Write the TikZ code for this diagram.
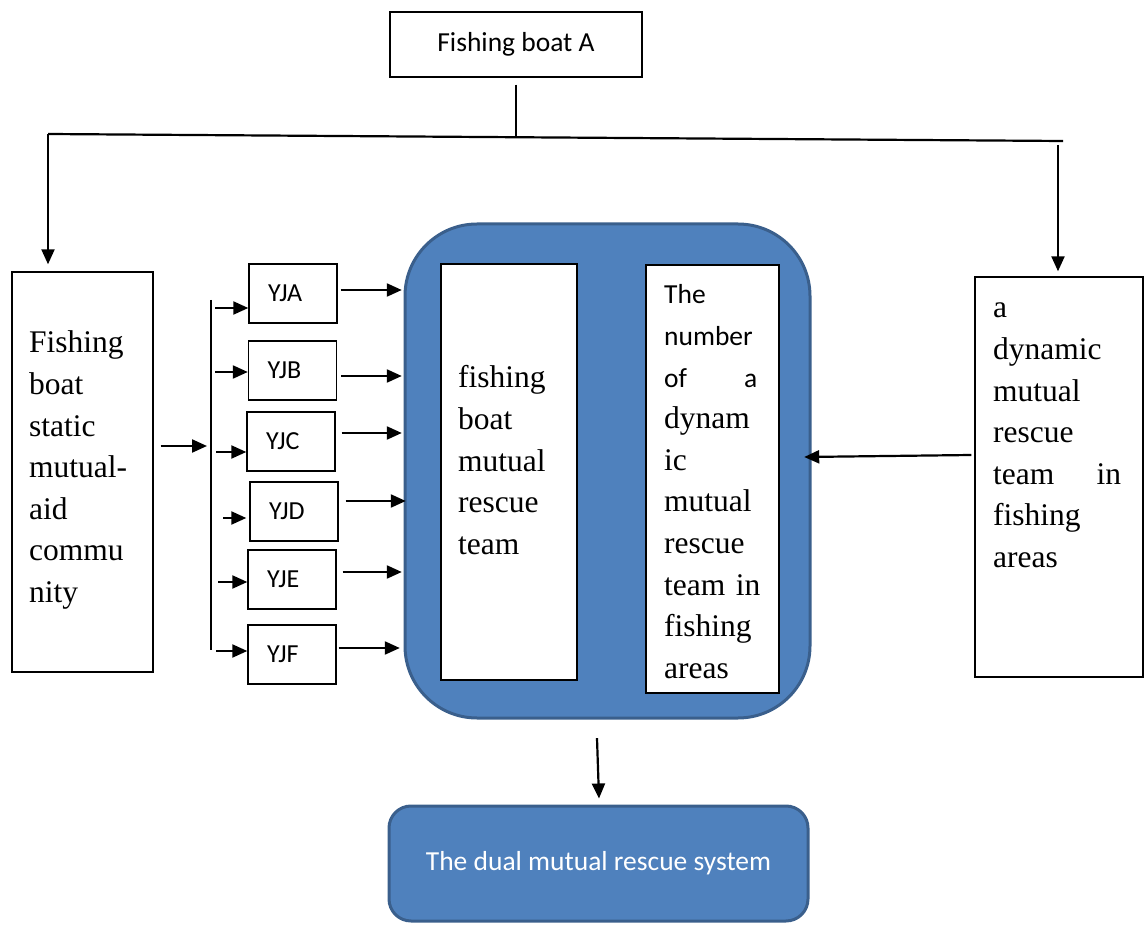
\documentclass[tikz,border=0pt]{standalone}
\usepackage{fontspec}
\setmainfont{Liberation Serif}
\newfontfamily\calib{Carlito}
\usetikzlibrary{arrows.meta}
\definecolor{blu}{HTML}{4F81BD}
\definecolor{bluedge}{HTML}{3A5F8C}
\begin{document}
\begin{tikzpicture}[x=1pt,y=-1pt,
  box/.style={draw=black,line width=1.4pt,inner sep=0pt},
  yj/.style={draw=black,line width=1.4pt,text width=50pt,inner xsep=19pt,inner ysep=0pt,
     minimum height=59pt,align=left,font=\calib\fontsize{26}{30}\selectfont},
  conn/.style={line width=2.2pt,-{Triangle[length=15pt,width=13pt]}},
  plain/.style={line width=2.2pt},
  serif/.style={inner sep=0pt,anchor=base west,align=left,font=\fontsize{31.5}{41.6}\selectfont},
  blubox/.style={fill=blu,draw=bluedge,line width=3pt}]
\useasboundingbox (0,0) rectangle (1144,925);

% top box
\node[box,minimum width=252pt,minimum height=65pt,font=\calib\fontsize{27.5}{33}\selectfont] (boatA) at (516,44.5) {Fishing boat A};

% side boxes
\node[box,minimum width=141pt,minimum height=400pt] (L) at (82.5,472) {};
\node[serif,text width=125pt] (Ltxt) at (29,353) {Fishing\\boat\\static\\mutual-\\aid\\commu\\nity};

\node[box,minimum width=168pt,minimum height=400pt] (R) at (1059,477) {};
\node[serif,text width=130pt] (Rtxt) at (993,318) {a\\dynamic\\mutual\\rescue\\\leavevmode\hbox to 128pt{team\hfill in}\\fishing\\areas};

% big blue box
\draw[blubox,rounded corners=72pt] (405,224) rectangle (810,718);
\node[inner sep=0pt,minimum width=405pt,minimum height=494pt] (big) at (607.5,471) {};
\node[box,fill=white,minimum width=136pt,minimum height=416pt] (wb1) at (509,472) {};
\node[box,fill=white,minimum width=133pt,minimum height=428pt] (wb2) at (712.5,479) {};
\node[serif,text width=110pt] (T1) at (458,388) {fishing\\boat\\mutual\\rescue\\team};
\node[serif,text width=110pt] (T2) at (664,304) {{\calib\fontsize{27.5}{41.6}\selectfont The}\\{\calib\fontsize{27.5}{41.6}\selectfont number}\\\leavevmode\hbox to 93pt{\calib\fontsize{27.5}{41.6}\selectfont of\hfill a}\\dynam\\ic\\mutual\\rescue\\team in\\fishing\\areas};

% bottom box
\node[blubox,rounded corners=22pt,minimum width=419pt,minimum height=115pt,
      text=white,font=\calib\fontsize{27.5}{33}\selectfont] (Bt) at (598.5,863.5) {The dual mutual rescue system};

% YJ boxes
\node[yj] (yja) at (293,293.5) {YJA};
\node[yj] (yjb) at (292.5,370.5) {YJB};
\node[yj] (yjc) at (291,441.5) {YJC};
\node[yj] (yjd) at (294,511.5) {YJD};
\node[yj] (yje) at (292,579.5) {YJE};
\node[yj] (yjf) at (292,654.5) {YJF};

% top connectors
\coordinate (hl) at (48,134);
\coordinate (hr) at (1063,141);
\coordinate (hm) at (516,137.2);
\coordinate (rt) at (1058,145);
\draw[plain] ([yshift=-7pt]boatA.south) -- (hm);
\draw[plain] (hl) -- (hr);
\draw[conn,shorten >=7pt] (hl) -- (hl |- L.north);
\draw[conn,shorten >=5pt] (rt) -- (rt |- R.north);

% left box to bus
\coordinate (bustop) at (211,300);
\coordinate (busbot) at (211,650);
\draw[plain] (bustop) -- (busbot);
\coordinate (lo) at ([xshift=7pt,yshift=26pt]L.east);
\draw[conn,shorten >=4pt] (lo) -- (lo -| bustop);

% bus to YJ boxes
\coordinate (ia) at ([yshift=-14.5pt]yja.west);
\coordinate (ib) at ([yshift=-1.5pt]yjb.west);
\coordinate (ic) at ([yshift=-10.5pt]yjc.west);
\coordinate (id) at ([yshift=-6.5pt]yjd.west);
\coordinate (ie) at ([yshift=-2.5pt]yje.west);
\coordinate (if) at ([yshift=3.5pt]yjf.west);
\draw[conn] ([xshift=4pt]ia -| bustop) -- (ia);
\draw[conn] ([xshift=4pt]ib -| bustop) -- (ib);
\draw[conn] ([xshift=5pt]ic -| bustop) -- (ic);
\draw[conn] ([xshift=12pt]id -| bustop) -- ([xshift=-3pt]id);
\draw[conn] ([xshift=7pt]ie -| bustop) -- (ie);
\draw[conn] ([xshift=5pt]if -| bustop) -- (if);

% YJ boxes to big box
\coordinate (oa) at ([xshift=3pt,yshift=3.5pt]yja.east);
\coordinate (ob) at ([xshift=4pt,yshift=-5.5pt]yjb.east);
\coordinate (oc) at ([xshift=6pt,yshift=8.5pt]yjc.east);
\coordinate (od) at ([xshift=7pt,yshift=10.5pt]yjd.east);
\coordinate (oe) at ([xshift=6pt,yshift=7.5pt]yje.east);
\coordinate (of) at ([xshift=2pt,yshift=6.5pt]yjf.east);
\draw[conn,shorten >=3pt] (oa) -- (oa -| big.west);
\draw[conn,shorten >=3pt] (ob) -- (ob -| big.west);
\draw[conn,shorten >=3pt] (oc) -- (oc -| big.west);
\draw[conn,shorten >=-1pt] (od) -- (od -| big.west);
\draw[conn,shorten >=3pt] (oe) -- (oe -| big.west);
\draw[conn,shorten >=5pt] (of) -- (of -| big.west);

% right box to big box
\coordinate (ro) at ([xshift=-3pt,yshift=22pt]R.west);
\coordinate (bre) at ([yshift=-2pt]big.east |- ro);
\draw[conn] (ro) -- ([xshift=-6pt]bre);

% big box to bottom box
\draw[conn] ([xshift=-10.5pt,yshift=-20pt]big.south) -- ([xshift=0.5pt,yshift=6pt]Bt.north);
\end{tikzpicture}
\end{document}
